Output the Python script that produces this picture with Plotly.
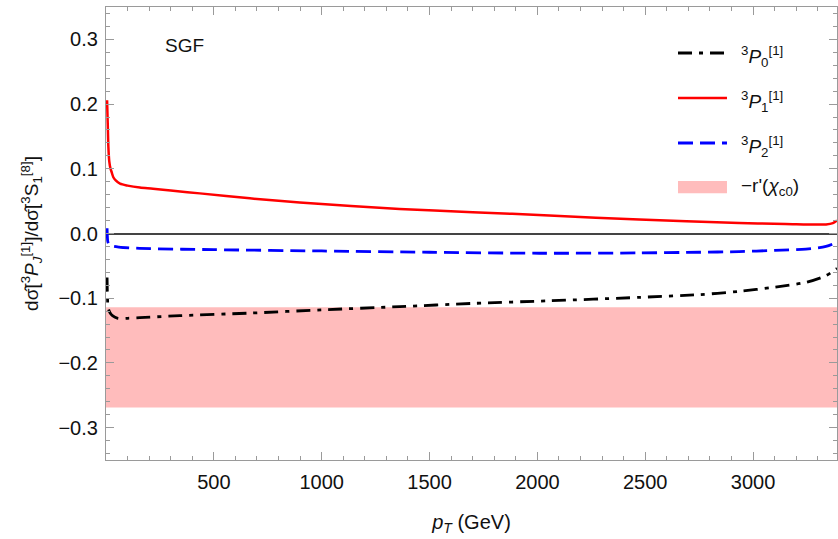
import plotly.graph_objects as go

# ---------------- data ----------------
pt_p0 = [5, 7, 10, 18, 30, 55, 100, 157, 343, 667, 1000, 1361, 1700, 2055,
         2472, 2750, 2935, 3100, 3245, 3338, 3389]
r_p0 = [-0.068, -0.100, -0.115, -0.122, -0.127, -0.131, -0.131, -0.130, -0.127,
        -0.123, -0.118, -0.113, -0.108, -0.104, -0.0987, -0.0945, -0.0894,
        -0.0830, -0.0755, -0.065, -0.054]

pt_p1 = [5, 8, 11, 15, 21, 26, 34, 45, 65, 100, 157, 218, 300, 435, 667, 898,
         1361, 1700, 2055, 2472, 2935, 3150, 3338, 3370, 3389]
r_p1 = [0.206, 0.170, 0.134, 0.112, 0.100, 0.095, 0.087, 0.082, 0.077, 0.074,
        0.071, 0.0693, 0.0665, 0.062, 0.0543, 0.048, 0.038, 0.0330, 0.0279,
        0.0215, 0.0162, 0.0147, 0.014, 0.016, 0.020]

pt_p2 = [5, 6, 8, 12, 25, 60, 157, 500, 1000, 1500, 2009, 2472, 2750, 2935,
         3100, 3245, 3338, 3389]
r_p2 = [0.008, -0.002, -0.012, -0.016, -0.019, -0.021, -0.023, -0.025, -0.027,
        -0.029, -0.0305, -0.030, -0.029, -0.028, -0.026, -0.024, -0.020, -0.0135]

band_pt = [0, 3389]
band_low = -0.269
band_high = -0.114

x_range = [0, 3389]
y_range = [-0.35, 0.35]

legend_labels = [
    "<sup>3</sup><i>P</i><sub>0</sub><sup>[1]</sup>",
    "<sup>3</sup><i>P</i><sub>1</sub><sup>[1]</sup>",
    "<sup>3</sup><i>P</i><sub>2</sub><sup>[1]</sup>",
    "\u2212r'(<i>\u03c7</i><sub>c0</sub>)",
]

FONT = "Liberation Sans, Arial, sans-serif"
BLACK_DASH = "14px,7px,4px,7px"
BLUE_DASH = "15px,7px"
PINK = "#ffbcbc"
TXT = "#111111"

fig = go.Figure()

# band
fig.add_trace(go.Scatter(x=band_pt, y=[band_low] * 2, mode="lines",
                         line=dict(width=0, color=PINK), showlegend=False,
                         hoverinfo="skip"))
fig.add_trace(go.Scatter(x=band_pt, y=[band_high] * 2, mode="lines",
                         line=dict(width=0, color=PINK), fill="tonexty",
                         fillcolor=PINK, showlegend=False, hoverinfo="skip"))

fig.add_trace(go.Scatter(x=pt_p1, y=r_p1, mode="lines", line_shape="spline",
                         line=dict(color="#ff0000", width=2.5, smoothing=0.8),
                         showlegend=False))
fig.add_trace(go.Scatter(x=pt_p2, y=r_p2, mode="lines", line_shape="spline",
                         line=dict(color="#0000ff", width=2.8, dash=BLUE_DASH,
                                   smoothing=0.8),
                         showlegend=False))
fig.add_trace(go.Scatter(x=pt_p0, y=r_p0, mode="lines", line_shape="spline",
                         line=dict(color="#000000", width=2.8, dash=BLACK_DASH,
                                   smoothing=0.8),
                         showlegend=False))

# custom legend (paper coordinates)
lx0, lx1, ltx = 0.7825, 0.8495, 0.866
rows = [0.8985, 0.799, 0.6998, 0.6026]
styles = [dict(color="#000000", width=2.8, dash=BLACK_DASH),
          dict(color="#ff0000", width=2.5),
          dict(color="#0000ff", width=2.8, dash=BLUE_DASH)]
for yy, st in zip(rows[:3], styles):
    fig.add_shape(type="line", xref="paper", yref="paper", x0=lx0, x1=lx1,
                  y0=yy, y1=yy, line=st)
fig.add_shape(type="rect", xref="paper", yref="paper", x0=lx0, x1=lx1,
              y0=rows[3] - 0.0135, y1=rows[3] + 0.0135,
              fillcolor=PINK, line=dict(width=0))
for i, (yy, lab) in enumerate(zip(rows, legend_labels)):
    dy = -0.008 if i < 3 else 0.0
    fig.add_annotation(x=ltx, y=yy + dy, xref="paper", yref="paper",
                       text=lab, showarrow=False, xanchor="left",
                       yanchor="middle", font=dict(size=19, color=TXT,
                                                   family=FONT))

fig.add_annotation(x=0.108, y=0.914, xref="paper", yref="paper", text="SGF",
                   showarrow=False, xanchor="center", yanchor="middle",
                   font=dict(size=19, color=TXT, family=FONT))

axis_common = dict(showline=True, linecolor="#9a9a9a", linewidth=1.2,
                   mirror="ticks", ticks="inside", tickcolor="#9a9a9a",
                   tickwidth=1.2, ticklen=8, showgrid=False,
                   tickfont=dict(size=20, color=TXT, family=FONT))

fig.update_xaxes(range=x_range, tickvals=[500, 1000, 1500, 2000, 2500, 3000],
                 minor=dict(dtick=100, tick0=0, ticks="inside", ticklen=4,
                            tickcolor="#9a9a9a", tickwidth=1),
                 zeroline=False, ticklabelstandoff=4,
                 title=dict(text="<i>p</i><sub><i>T</i></sub> (GeV)",
                            font=dict(size=20, color=TXT, family=FONT),
                            standoff=22),
                 **axis_common)
fig.update_yaxes(range=y_range, tickvals=[-0.3, -0.2, -0.1, 0.0, 0.1, 0.2, 0.3],
                 ticktext=["\u22120.3", "\u22120.2", "\u22120.1", "0.0", "0.1",
                           "0.2", "0.3"],
                 minor=dict(dtick=0.02, tick0=0, ticks="inside", ticklen=4,
                            tickcolor="#9a9a9a", tickwidth=1),
                 zeroline=True, zerolinecolor="#444444", zerolinewidth=1.5,
                 ticklabelstandoff=3,
                 title=dict(text="d\u03c3\u0302[<sup>3</sup><i>P</i><sub><i>J</i></sub><sup>[1]</sup>]/d\u03c3\u0302[<sup>3</sup>S<sub>1</sub><sup>[8]</sup>]",
                            font=dict(size=19, color=TXT, family=FONT),
                            standoff=14),
                 **axis_common)

fig.update_layout(width=838, height=539, margin=dict(l=106, r=1, t=7, b=79),
                  plot_bgcolor="white", paper_bgcolor="white",
                  font=dict(family=FONT), showlegend=False)

fig.write_html("out.html")
